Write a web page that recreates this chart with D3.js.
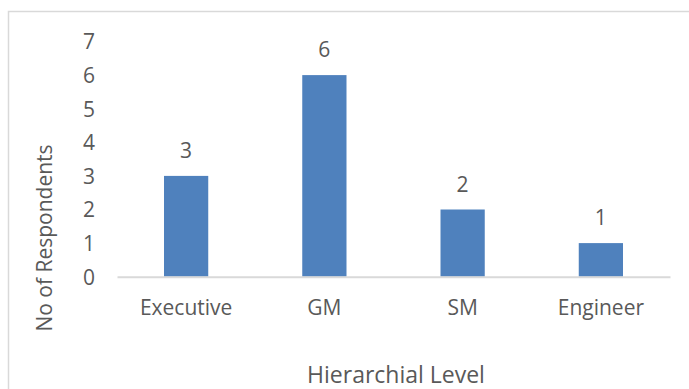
<!DOCTYPE html>
<meta charset="utf-8">
<head>
	<script src="https://cdnjs.cloudflare.com/ajax/libs/d3/7.8.5/d3.min.js"></script>
</head>
<style>
	body { margin: 0; background: #fff; }
	text { font-family: "Open Sans", sans-serif; fill: #595959; }
</style>
<body>
<script>
	var categories = ["Executive", "GM", "SM", "Engineer"];
	var respondents = [3, 6, 2, 1];
	var yTicks = [0, 1, 2, 3, 4, 5, 6, 7];

	var W = 689, H = 389;
	var margin = {top: 41.5, right: 19, bottom: 112.3, left: 117};
	var width = W - margin.left - margin.right,
			height = H - margin.top - margin.bottom;

	var svg = d3.select("body").append("svg")
		.attr("width", W)
		.attr("height", H);

	// chart border (left + top only visible)
	svg.append("path")
		.attr("d", "M8.5," + H + "V11.5H" + W)
		.attr("fill", "none")
		.attr("stroke", "#d9d9d9")
		.attr("stroke-width", 1.5);

	var g = svg.append("g")
		.attr("transform", "translate(" + margin.left + "," + margin.top + ")");

	var xScale = d3.scaleBand()
		.domain(categories)
		.range([0, width])
		.paddingInner(0.68)
		.paddingOuter(0.34);

	var yScale = d3.scaleLinear()
		.domain([0, 7])
		.range([height, 0]);

	var data = categories.map(function(c, i) { return {name: c, count: respondents[i]}; });

	g.selectAll(".bar")
		.data(data)
	 .enter().append("rect")
		.attr("class", "bar")
		.attr("x", function(d) { return xScale(d.name); })
		.attr("width", xScale.bandwidth())
		.attr("y", function(d) { return yScale(d.count); })
		.attr("height", function(d) { return height - yScale(d.count); })
		.attr("fill", "#4f81bd");

	g.selectAll(".lbl")
		.data(data)
	 .enter().append("text")
		.attr("class", "lbl")
		.attr("x", function(d) { return xScale(d.name) + xScale.bandwidth() / 2; })
		.attr("y", function(d) { return yScale(d.count) - 18; })
		.attr("text-anchor", "middle")
		.style("font-size", "21px")
		.text(function(d) { return d.count; });

	// x axis
	var xAxis = g.append("g")
		.attr("transform", "translate(0," + height + ")")
		.call(d3.axisBottom(xScale).tickSize(0).tickSizeOuter(0));
	xAxis.select(".domain").attr("stroke", "#d9d9d9").attr("stroke-width", 2);
	xAxis.selectAll("text")
		.attr("dy", 0)
		.attr("y", 38)
		.style("font-size", "21px");

	// y axis (no line)
	var yAxis = g.append("g")
		.call(d3.axisLeft(yScale).tickValues(yTicks).tickFormat(d3.format("d")).tickSize(0));
	yAxis.select(".domain").remove();
	yAxis.selectAll("text")
		.attr("x", -22)
		.attr("dy", "0.35em")
		.style("font-size", "21px");

	svg.append("text")
		.attr("transform", "translate(52,238) rotate(-90)")
		.attr("text-anchor", "middle")
		.style("font-size", "21px")
		.text("No of Respondents");

	svg.append("text")
		.attr("x", 396)
		.attr("y", 383)
		.attr("text-anchor", "middle")
		.style("font-size", "23px")
		.text("Hierarchial Level");
</script>
</body>
